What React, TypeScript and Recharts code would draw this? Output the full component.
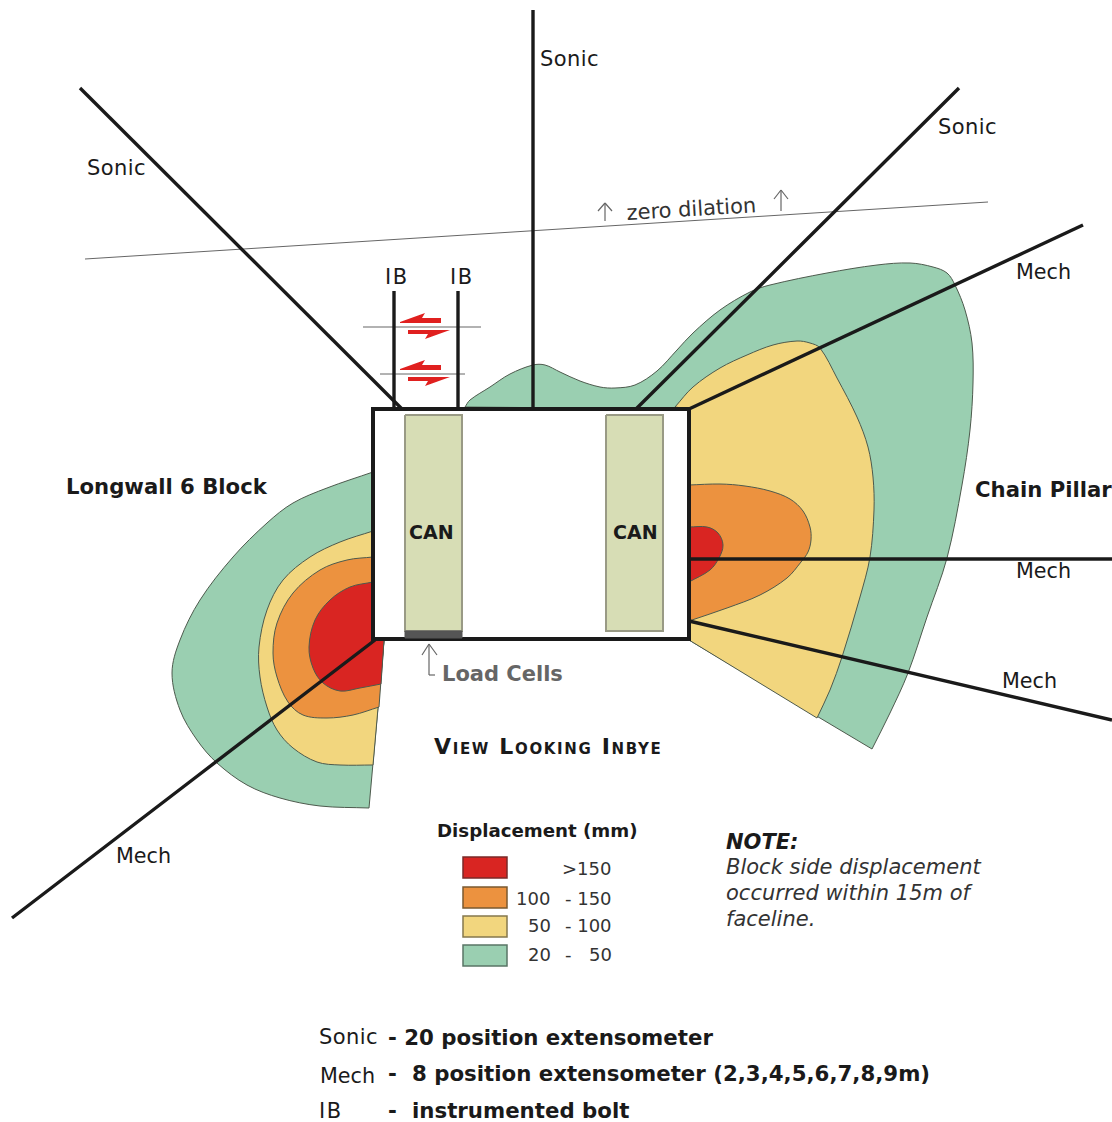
import { Scatter, ScatterChart, XAxis, YAxis } from 'recharts';

type Pt = [number, number];
type Label = { x: number; y: number; text: string };

const W = 1112;
const H = 1122;

// contour outlines. A repeated point is a hard corner.
const greenRight: Pt[] = [
  [465, 407], [465, 407], [470, 400], [490, 387], [510, 374], [533, 365], [545, 365], [560, 372], [580, 381],
  [600, 387], [615, 388], [635, 385], [657, 371], [677, 350], [693, 333], [720, 310], [750, 292], [770, 285],
  [827, 273], [877, 265], [910, 263], [933, 267], [947, 273], [955, 285], [965, 310], [972, 343], [973, 383],
  [970, 430], [962, 485], [947, 558], [927, 617], [908, 673], [890, 713], [872, 749], [872, 749],
  [689, 640], [689, 640], [689, 409], [689, 409], [465, 407],
];
const yellowRight: Pt[] = [
  [675, 407], [675, 407], [693, 387], [720, 368], [747, 355], [773, 345], [797, 341], [810, 343], [820, 348],
  [837, 378], [857, 417], [868, 447], [873, 477], [874, 510], [870, 557], [860, 597], [842, 657], [830, 690],
  [817, 718], [817, 718], [689, 640], [689, 640], [689, 409], [689, 409], [675, 407],
];
const orangeRight: Pt[] = [
  [689, 485], [689, 485], [720, 484], [745, 486], [770, 491], [790, 499], [803, 511], [810, 527], [811, 540],
  [808, 552], [801, 562], [787, 578], [760, 595], [727, 608], [689, 621], [689, 621], [689, 485],
];
const redRight: Pt[] = [
  [689, 527], [689, 527], [707, 527], [718, 533], [723, 545], [719, 558], [710, 570], [689, 582], [689, 582], [689, 527],
];
const greenLeft: Pt[] = [
  [373, 472], [373, 472], [327, 488], [293, 503], [267, 523], [233, 557], [200, 600], [180, 640], [172, 673],
  [180, 710], [197, 740], [217, 763], [247, 785], [280, 798], [320, 806], [369, 808], [369, 808],
  [384, 640], [384, 640], [373, 640], [373, 640], [373, 472],
];
const yellowLeft: Pt[] = [
  [373, 531], [373, 531], [340, 542], [310, 557], [283, 580], [267, 610], [259, 647], [260, 677], [267, 707],
  [277, 730], [293, 748], [317, 762], [340, 765], [373, 765], [373, 765], [384, 640], [384, 640], [373, 640], [373, 640], [373, 531],
];
const orangeLeft: Pt[] = [
  [373, 557], [373, 557], [347, 560], [320, 570], [293, 593], [277, 623], [273, 653], [277, 677], [288, 702],
  [303, 715], [327, 718], [353, 715], [379, 707], [379, 707], [384, 640], [384, 640], [373, 640], [373, 640], [373, 557],
];
const redLeft: Pt[] = [
  [373, 582], [373, 582], [350, 587], [330, 600], [315, 620], [309, 647], [313, 668], [323, 683], [340, 691],
  [360, 688], [381, 684], [381, 684], [384, 640], [384, 640], [373, 640], [373, 640], [373, 582],
];

const roadway: Pt[] = [[373, 409], [373, 409], [689, 409], [689, 409], [689, 639], [689, 639], [373, 639], [373, 639], [373, 409], [373, 409], [689, 409]];
const canLeft: Pt[] = [[405, 415], [405, 415], [462, 415], [462, 415], [462, 631], [462, 631], [405, 631], [405, 631], [405, 415]];
const canRight: Pt[] = [[606, 415], [606, 415], [663, 415], [663, 415], [663, 631], [663, 631], [606, 631], [606, 631], [606, 415]];
const loadCell: Pt[] = [[405, 631], [405, 631], [462, 631], [462, 631], [462, 638], [462, 638], [405, 638], [405, 638], [405, 631]];

const holes: Pt[][] = [
  [[533, 10], [533, 409]],
  [[80, 88], [402, 409]],
  [[959, 88], [636, 409]],
  [[1083, 225], [689, 409]],
  [[689, 559], [1112, 559]],
  [[689, 621], [1112, 720]],
  [[12, 918], [375, 640]],
  [[394, 291], [394, 409]],
  [[458, 291], [458, 409]],
];
const zeroDilation: Pt[] = [[85, 259], [988, 202]];
const faultUpper: Pt[] = [[363, 327], [481, 327]];
const faultLower: Pt[] = [[380, 374], [465, 374]];
const thinArrows: Pt[][] = [
  [[605, 221], [605, 203]], [[598, 211], [605, 203]], [[612, 211], [605, 203]],
  [[781, 211], [781, 190]], [[774, 199], [781, 190]], [[788, 199], [781, 190]],
  [[435, 675], [429, 675]], [[429, 675], [429, 644]], [[422, 655], [429, 644]], [[437, 655], [429, 644]],
];
const shearArrows: Pt[][] = [
  [[400, 322], [400, 322], [425, 313], [425, 313], [422, 318], [422, 318], [441, 318], [441, 318], [441, 323], [441, 323], [400, 323]],
  [[408, 330], [408, 330], [450, 330], [450, 330], [425, 339], [425, 339], [428, 334], [428, 334], [408, 334], [408, 334], [408, 330]],
  [[400, 369], [400, 369], [425, 360], [425, 360], [422, 365], [422, 365], [441, 365], [441, 365], [441, 370], [441, 370], [400, 370]],
  [[408, 377], [408, 377], [450, 377], [450, 377], [425, 386], [425, 386], [428, 381], [428, 381], [408, 381], [408, 381], [408, 377]],
];

const swatches: { band: string; box: Pt[] }[] = [
  { band: '>150', box: [[463, 857], [463, 857], [507, 857], [507, 857], [507, 878], [507, 878], [463, 878], [463, 878], [463, 857], [463, 857], [507, 857]] },
  { band: '100-150', box: [[463, 887], [463, 887], [507, 887], [507, 887], [507, 908], [507, 908], [463, 908], [463, 908], [463, 887], [463, 887], [507, 887]] },
  { band: '50-100', box: [[463, 916], [463, 916], [507, 916], [507, 916], [507, 937], [507, 937], [463, 937], [463, 937], [463, 916], [463, 916], [507, 916]] },
  { band: '20-50', box: [[463, 945], [463, 945], [507, 945], [507, 945], [507, 966], [507, 966], [463, 966], [463, 966], [463, 945], [463, 945], [507, 945]] },
];

const sonicLabels: Label[] = [
  { x: 540, y: 66, text: 'Sonic' },
  { x: 938, y: 134, text: 'Sonic' },
  { x: 87, y: 175, text: 'Sonic' },
  { x: 319, y: 1044, text: 'Sonic' },
];
const mechLabels: Label[] = [
  { x: 1016, y: 279, text: 'Mech' },
  { x: 1016, y: 578, text: 'Mech' },
  { x: 1002, y: 688, text: 'Mech' },
  { x: 116, y: 863, text: 'Mech' },
  { x: 320, y: 1083, text: 'Mech' },
];
const boltLabels: Label[] = [
  { x: 385, y: 284, text: 'IB' },
  { x: 450, y: 284, text: 'IB' },
  { x: 319, y: 1118, text: 'IB' },
];
const blockLabels: Label[] = [
  { x: 66, y: 494, text: 'Longwall 6 Block' },
  { x: 975, y: 497, text: 'Chain Pillar' },
];
const canLabels: Label[] = [
  { x: 409, y: 539, text: 'CAN' },
  { x: 613, y: 539, text: 'CAN' },
];
const loadLabels: Label[] = [{ x: 442, y: 681, text: 'Load Cells' }];
const viewLabels: Label[] = [{ x: 434, y: 754, text: 'View Looking Inbye' }];
const legendTitle: Label[] = [{ x: 437, y: 837, text: 'Displacement (mm)' }];
const legendLow: Label[] = [
  { x: 516, y: 905, text: '100' },
  { x: 528, y: 932, text: '50' },
  { x: 528, y: 961, text: '20' },
];
const legendHigh: Label[] = [
  { x: 562, y: 875, text: '>150' },
  { x: 565, y: 905, text: '- 150' },
  { x: 565, y: 932, text: '- 100' },
  { x: 565, y: 961, text: '-' },
  { x: 589, y: 961, text: '50' },
];
const noteTitle: Label[] = [{ x: 726, y: 849, text: 'NOTE:' }];
const noteLines: Label[] = [
  { x: 726, y: 874, text: 'Block side displacement' },
  { x: 726, y: 900, text: 'occurred within 15m of' },
  { x: 726, y: 926, text: 'faceline.' },
];
const keyLines: Label[] = [
  { x: 388, y: 1045, text: '- 20 position extensometer' },
  { x: 388, y: 1081, text: '-' },
  { x: 412, y: 1081, text: '8 position extensometer (2,3,4,5,6,7,8,9m)' },
  { x: 388, y: 1118, text: '-' },
  { x: 412, y: 1118, text: 'instrumented bolt' },
];
const dilationLabel: Label[] = [{ x: 627, y: 220, text: 'zero dilation' }];

const COLORS = { red: '#d92522', orange: '#ec923f', yellow: '#f2d67e', green: '#9acfb1', can: '#d7ddb5', ink: '#1a1a1a' };
const FONT = '"DejaVu Sans", Verdana, sans-serif';

// smooth curve through the scaled points; zero-length steps stay as hard corners
function smoothPath(points: { x: number; y: number }[]) {
  const unit = (a: { x: number; y: number }, b: { x: number; y: number }) => {
    const len = Math.hypot(b.x - a.x, b.y - a.y) || 1;
    return { x: (b.x - a.x) / len, y: (b.y - a.y) / len };
  };
  let d = `M${points[0].x},${points[0].y}`;
  for (let i = 0; i < points.length - 1; i++) {
    const p0 = points[Math.max(0, i - 1)];
    const p1 = points[i];
    const p2 = points[i + 1];
    const p3 = points[Math.min(points.length - 1, i + 2)];
    const seg = Math.hypot(p2.x - p1.x, p2.y - p1.y);
    if (seg === 0) continue;
    const t1 = unit(p0, p2);
    const t2 = unit(p1, p3);
    d += `C${p1.x + (t1.x * seg) / 3},${p1.y + (t1.y * seg) / 3} ${p2.x - (t2.x * seg) / 3},${p2.y - (t2.y * seg) / 3} ${p2.x},${p2.y}`;
  }
  return d;
}

const toData = (pts: Pt[]) => pts.map(([x, y]) => ({ x, y }));
const noSymbol = () => null;

function shape(key: string, pts: Pt[], fill: string, stroke: string, strokeWidth: number) {
  return (
    <Scatter
      key={key}
      data={toData(pts)}
      isAnimationActive={false}
      shape={noSymbol}
      lineType="joint"
      line={(p: any) => (
        <path d={smoothPath(p.points)} fill={fill} stroke={stroke} strokeWidth={strokeWidth} strokeLinejoin="miter" />
      )}
    />
  );
}

function labels(key: string, rows: Label[], style: React.CSSProperties, rotate = 0) {
  return (
    <Scatter
      key={key}
      data={rows}
      isAnimationActive={false}
      shape={(p: any) => (
        <text
          x={p.cx}
          y={p.cy}
          transform={rotate ? `rotate(${rotate} ${p.cx} ${p.cy})` : undefined}
          style={{ fontFamily: FONT, fill: COLORS.ink, ...style }}
        >
          {p.payload.text}
        </text>
      )}
    />
  );
}

export default function App() {
  const edge = '#4d5a4d';
  return (
    <div style={{ position: 'absolute', left: 0, top: 0, width: W, height: H, background: '#fff', overflow: 'hidden' }}>
      <ScatterChart width={W} height={H} margin={{ top: 0, right: 0, bottom: 0, left: 0 }}>
        <XAxis type="number" dataKey="x" domain={[0, W]} hide />
        <YAxis type="number" dataKey="y" domain={[0, H]} reversed hide />

        {shape('gr', greenRight, COLORS.green, edge, 1)}
        {shape('yr', yellowRight, COLORS.yellow, edge, 1)}
        {shape('or', orangeRight, COLORS.orange, edge, 1)}
        {shape('rr', redRight, COLORS.red, edge, 1)}
        {shape('gl', greenLeft, COLORS.green, edge, 1)}
        {shape('yl', yellowLeft, COLORS.yellow, edge, 1)}
        {shape('ol', orangeLeft, COLORS.orange, edge, 1)}
        {shape('rl', redLeft, COLORS.red, edge, 1)}

        {shape('zero', zeroDilation, 'none', '#666', 1)}
        {shape('fu', faultUpper, 'none', '#999', 1.5)}
        {shape('fl', faultLower, 'none', '#666', 1)}
        {holes.map((h, i) => shape(`hole${i}`, h, 'none', COLORS.ink, 3.4))}
        {shearArrows.map((a, i) => shape(`shear${i}`, a, '#e0201f', 'none', 0))}

        {shape('road', roadway, '#fff', COLORS.ink, 4)}
        {shape('cl', canLeft, COLORS.can, '#999a85', 2)}
        {shape('cr', canRight, COLORS.can, '#999a85', 2)}
        {shape('load', loadCell, '#555', '#555', 1)}
        {thinArrows.map((a, i) => shape(`arrow${i}`, a, 'none', '#666', 1.2))}

        {shape('s0', swatches[0].box, COLORS.red, '#7a2a28', 1.5)}
        {shape('s1', swatches[1].box, COLORS.orange, '#7a5a30', 1.5)}
        {shape('s2', swatches[2].box, COLORS.yellow, '#85784d', 1.5)}
        {shape('s3', swatches[3].box, COLORS.green, '#5a7565', 1.5)}

        {labels('sonic', sonicLabels, { fontSize: 21, letterSpacing: 0.4 })}
        {labels('mech', mechLabels, { fontSize: 20.7 })}
        {labels('bolt', boltLabels, { fontSize: 21, letterSpacing: 1.5 })}
        {labels('blocks', blockLabels, { fontSize: 21.2, fontWeight: 700 })}
        {labels('cans', canLabels, { fontSize: 19, fontWeight: 700 })}
        {labels('load', loadLabels, { fontSize: 21, fontWeight: 700, fill: '#666' })}
        {labels('view', viewLabels, { fontSize: 22, fontWeight: 700, fontVariant: 'small-caps', letterSpacing: 1.65 })}
        {labels('ltitle', legendTitle, { fontSize: 18.2, fontWeight: 700 })}
        {labels('llow', legendLow, { fontSize: 18, fill: '#333' })}
        {labels('lhigh', legendHigh, { fontSize: 18, fill: '#333' })}
        {labels('nt', noteTitle, { fontSize: 21, fontWeight: 700, fontStyle: 'italic' })}
        {labels('nl', noteLines, { fontSize: 21, fontStyle: 'italic', fill: '#333' })}
        {labels('key', keyLines, { fontSize: 21.3, fontWeight: 700 })}
        {labels('dil', dilationLabel, { fontSize: 21, fill: '#333' }, -3.5)}
      </ScatterChart>
    </div>
  );
}
